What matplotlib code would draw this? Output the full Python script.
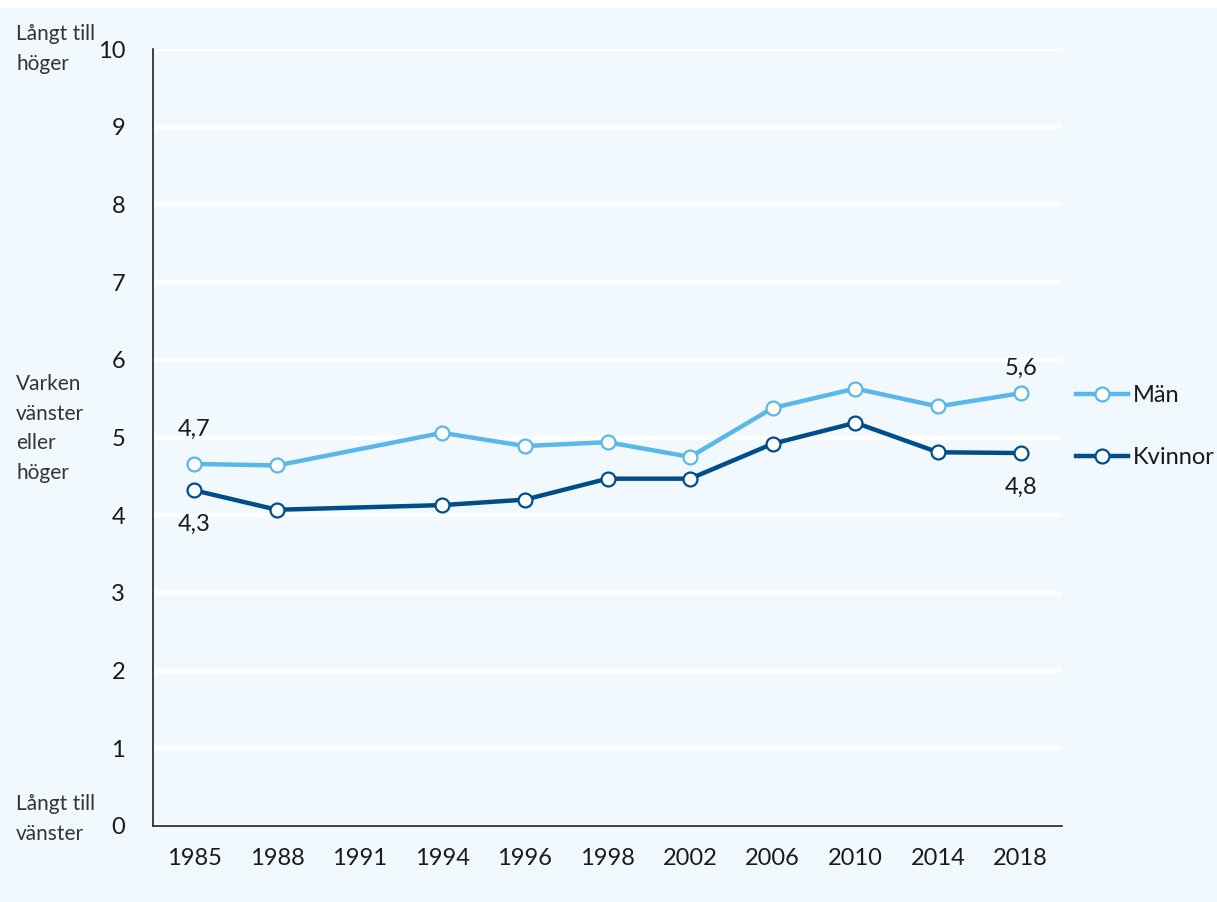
import matplotlib
matplotlib.use("Agg")
import matplotlib.pyplot as plt
from matplotlib.patches import Rectangle
from matplotlib.font_manager import fontManager

names = {f.name for f in fontManager.ttflist}
fam = [f for f in ["Liberation Sans Narrow", "Lato", "Open Sans", "DejaVu Sans"] if f in names]
plt.rcParams['font.family'] = fam

years = ["1985", "1988", "1991", "1994", "1996", "1998", "2002", "2006", "2010", "2014", "2018"]
man_years = ["1985", "1988", "1994", "1996", "1998", "2002", "2006", "2010", "2014", "2018"]
man = [4.66, 4.64, 5.06, 4.89, 4.94, 4.75, 5.38, 5.63, 5.40, 5.57]
kvinnor = [4.32, 4.07, 4.13, 4.20, 4.47, 4.47, 4.92, 5.19, 4.81, 4.80]
yticks = list(range(0, 11))

c_light = "#5ab8e8"
c_dark = "#004d8c"
bg = "#f2f9fe"
txt = "#1a1a1a"
FS = 17

fig = plt.figure(figsize=(12.17, 9.02), dpi=100)
fig.patch.set_facecolor("white")
fig.add_artist(Rectangle((0, 0), 1, 1 - 8 / 902, transform=fig.transFigure,
                         facecolor=bg, edgecolor="none", zorder=-10))
ax = fig.add_axes([153 / 1217, 76 / 902, (1062 - 153) / 1217, (826 - 49) / 902])
ax.set_facecolor(bg)

xpos = [years.index(y) for y in man_years]
ax.plot(xpos, man, color=c_light, lw=3.2, marker="o", ms=10, mfc="white",
        mec=c_light, mew=1.6, label="Män", zorder=3)
ax.plot(xpos, kvinnor, color=c_dark, lw=3.2, marker="o", ms=10, mfc="white",
        mec=c_dark, mew=1.6, label="Kvinnor", zorder=3)

ax.set_xlim(-0.5, len(years) - 0.5)
ax.set_ylim(0, 10)
ax.set_xticks(range(len(years)))
ax.set_xticklabels(years)
ax.set_yticks(yticks)
ax.set_yticklabels([str(v) for v in yticks])
ax.tick_params(axis="both", length=0, labelsize=FS, colors=txt)
ax.tick_params(axis="y", pad=20)
ax.tick_params(axis="x", pad=16)
ax.grid(axis="y", color="white", lw=3)
ax.set_axisbelow(True)
for s in ["top", "right"]:
    ax.spines[s].set_visible(False)
for s in ["left", "bottom"]:
    ax.spines[s].set_color("#222222")
    ax.spines[s].set_linewidth(1.2)
ax.spines["left"].set_zorder(4)

def fmt(v):
    return f"{v:.1f}".replace(".", ",")

ax.annotate(fmt(man[0]), (xpos[0], man[0]), xytext=(0, 17), textcoords="offset points",
            ha="center", va="bottom", fontsize=FS, color=txt)
ax.annotate(fmt(kvinnor[0]), (xpos[0], kvinnor[0]), xytext=(0, -17), textcoords="offset points",
            ha="center", va="top", fontsize=FS, color=txt)
ax.annotate(fmt(man[-1]), (xpos[-1], man[-1]), xytext=(0, 10), textcoords="offset points",
            ha="center", va="bottom", fontsize=FS, color=txt)
ax.annotate(fmt(kvinnor[-1]), (xpos[-1], kvinnor[-1]), xytext=(0, -17), textcoords="offset points",
            ha="center", va="top", fontsize=FS, color=txt)

leg = ax.legend(loc="center left", bbox_to_anchor=(1.0, 0.514), frameon=False,
                fontsize=FS, labelspacing=1.75, handlelength=2.2, handletextpad=0.2,
                borderaxespad=0.2)
for t in leg.get_texts():
    t.set_color(txt)

for y, s in [(24, "Långt till\nhöger"), (374, "Varken\nvänster\neller\nhöger"),
             (794, "Långt till\nvänster")]:
    fig.text(16 / 1217, 1 - y / 902, s, ha="left", va="top",
             fontsize=15, color="#333333", linespacing=1.6)

fig.savefig("out.png", dpi=100, facecolor=fig.get_facecolor())
